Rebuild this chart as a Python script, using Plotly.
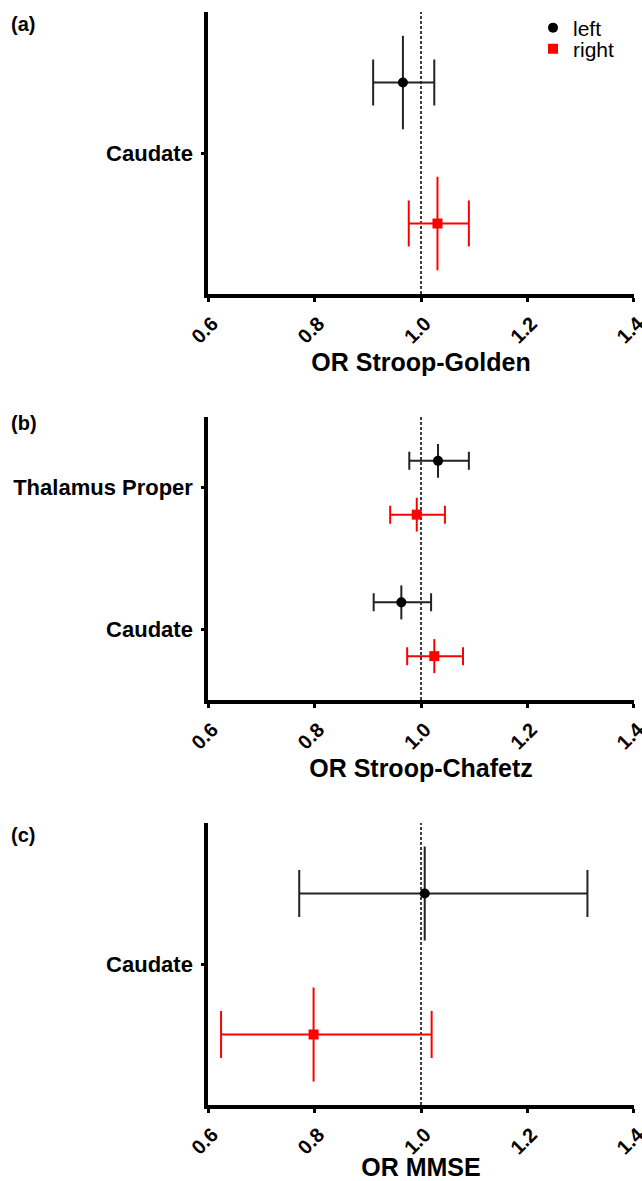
import plotly.graph_objects as go

W, H = 642, 1181
FONT = "Liberation Sans, Arial, sans-serif"

# ---------------- data ----------------
# Panel (a): OR Stroop-Golden
a_regions = ["Caudate"]
a_left_or = [0.966]
a_left_lo = [0.910]
a_left_hi = [1.025]
a_right_or = [1.031]
a_right_lo = [0.977]
a_right_hi = [1.090]
a_vbar = [0.166]

# Panel (b): OR Stroop-Chafetz
b_regions = ["Caudate", "Thalamus Proper"]
b_left_or = [0.963, 1.032]
b_left_lo = [0.911, 0.978]
b_left_hi = [1.019, 1.090]
b_right_or = [1.025, 0.992]
b_right_lo = [0.974, 0.942]
b_right_hi = [1.079, 1.045]
b_vbar = [0.12, 0.12]

# Panel (c): OR MMSE
c_regions = ["Caudate"]
c_left_or = [1.007]
c_left_lo = [0.771]
c_left_hi = [1.313]
c_right_or = [0.798]
c_right_lo = [0.624]
c_right_hi = [1.020]
c_vbar = [0.167]

x_tick_vals = [0.6, 0.8, 1.0, 1.2, 1.4]
x_tick_text = ["0.6", "0.8", "1.0", "1.2", "1.4"]
x_titles = ["OR Stroop-Golden", "OR Stroop-Chafetz", "OR MMSE"]
panel_labels = ["(a)", "(b)", "(c)"]
series_names = ["left", "right"]
REF_OR = 1.0

# ---------------- layout helpers ----------------
BLACK_LINE = "#222222"
RED = "#ff0000"


def ydom(top_px, bot_px):
    return [1 - bot_px / H, 1 - top_px / H]


XDOM = [208.3 / W, 633.7 / W]
panels = [
    dict(regions=a_regions, L=(a_left_or, a_left_lo, a_left_hi), R=(a_right_or, a_right_lo, a_right_hi),
         vbar=a_vbar, off=0.25, cap=23, dom=ydom(12, 294), label_y=24),
    dict(regions=b_regions, L=(b_left_or, b_left_lo, b_left_hi), R=(b_right_or, b_right_lo, b_right_hi),
         vbar=b_vbar, off=0.19, cap=9, dom=ydom(417, 700), label_y=423),
    dict(regions=c_regions, L=(c_left_or, c_left_lo, c_left_hi), R=(c_right_or, c_right_lo, c_right_hi),
         vbar=c_vbar, off=0.25, cap=23.5, dom=ydom(823, 1105), label_y=835),
]

fig = go.Figure()
layout = dict(
    width=W, height=H, margin=dict(l=0, r=0, t=0, b=0),
    paper_bgcolor="white", plot_bgcolor="white",
    font=dict(family=FONT, color="black"),
    annotations=[], shapes=[],
)

for i, p in enumerate(panels):
    n = i + 1
    xa = "x" if n == 1 else f"x{n}"
    ya = "y" if n == 1 else f"y{n}"
    idx = list(range(len(p["regions"])))
    for s, (key, color, lcolor, symbol) in enumerate(
            [("L", "black", BLACK_LINE, "circle"), ("R", RED, RED, "square")]):
        orv, lo, hi = p[key]
        sign = 1 if key == "L" else -1
        yy = [k + sign * p["off"] for k in idx]
        tr = go.Scatter(
            x=orv, y=yy, mode="markers", xaxis=xa, yaxis=ya,
            name=series_names[s],
            marker=dict(symbol=symbol, size=10, color=color, line=dict(width=0)),
            error_x=dict(type="data", symmetric=False,
                         array=[h - o for h, o in zip(hi, orv)],
                         arrayminus=[o - l for o, l in zip(orv, lo)],
                         color=lcolor, thickness=2, width=p["cap"]),
            error_y=dict(type="data", array=p["vbar"], color=lcolor, thickness=2, width=0),
            showlegend=(n == 1),
            legend="legend" if key == "L" else "legend2",
            hoverinfo="x+y",
        )
        fig.add_trace(tr)

    xkey = "xaxis" if n == 1 else f"xaxis{n}"
    ykey = "yaxis" if n == 1 else f"yaxis{n}"
    layout[xkey] = dict(
        domain=XDOM, anchor=ya, range=[0.6, 1.4], automargin=False,
        tickmode="array", tickvals=x_tick_vals, ticktext=x_tick_text,
        tickangle=-45, tickfont=dict(size=20, family=FONT, weight="bold"),
        ticklabeloverflow="allow", ticklabelstandoff=2, ticklabelshift=4,
        ticks="outside", ticklen=4, tickwidth=3, tickcolor="black",
        showline=True, linewidth=4, linecolor="black",
        showgrid=False, zeroline=False,
        title=dict(text=x_titles[i], font=dict(size=25, family=FONT, weight="bold"), standoff=0),
    )
    layout[ykey] = dict(
        domain=p["dom"], anchor=xa, automargin=False,
        range=[-0.5, len(idx) - 0.5],
        tickmode="array", tickvals=idx, ticktext=p["regions"],
        tickfont=dict(size=22, family=FONT, weight="bold"),
        ticks="outside", ticklen=3, tickwidth=3, tickcolor="black",
        ticklabelstandoff=4,
        showline=True, linewidth=4, linecolor="black",
        showgrid=False, zeroline=False,
    )
    layout["shapes"].append(dict(
        type="line", xref=xa, yref=f"{ya} domain", x0=REF_OR, x1=REF_OR, y0=0, y1=1,
        line=dict(color="black", width=1.5, dash="3px,2px"), layer="below",
    ))
    layout["annotations"].append(dict(
        text=panel_labels[i], xref="paper", yref="paper", x=9 / W, y=1 - p["label_y"] / H,
        xanchor="left", yanchor="middle", showarrow=False,
        font=dict(size=20, family=FONT, weight="bold"),
    ))

legend_common = dict(xanchor="left", yanchor="middle", bgcolor="rgba(0,0,0,0)", borderwidth=0,
                     font=dict(size=21, family=FONT, color="black"))
layout["legend"] = dict(x=533 / W, y=1 - 28 / H, **legend_common)
layout["legend2"] = dict(x=533 / W, y=1 - 49 / H, **legend_common)

fig.update_layout(**layout)
fig.write_html("out.html")
